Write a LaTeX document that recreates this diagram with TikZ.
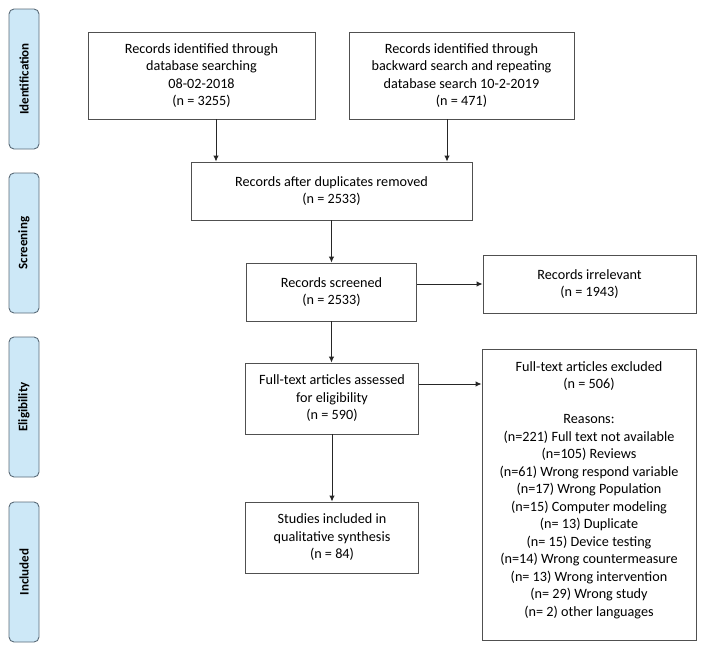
\documentclass[tikz,border=0pt]{standalone}
\usepackage{fontspec}
\setmainfont{Carlito}
\usetikzlibrary{arrows.meta,calc}
\definecolor{stagefill}{HTML}{CDE8F7}
\definecolor{stagedraw}{HTML}{5A6B78}
\definecolor{boxdraw}{HTML}{505050}
\begin{document}
\begin{tikzpicture}[x=1pt,y=-1pt,
  box/.style={draw=boxdraw, line width=0.9pt, fill=white, align=center, inner sep=0pt,
    font=\fontsize{14.2}{17.5}\selectfont},
  stage/.style={draw=stagedraw, line width=0.9pt, fill=stagefill, rounded corners=5pt,
    minimum width=30pt, minimum height=140pt, inner sep=0pt},
  stagetext/.style={rotate=90, font=\fontsize{13}{15}\selectfont\bfseries},
  arr/.style={draw=black!85, line width=0.9pt, -{Latex[length=6pt,width=5.5pt]}}]
\useasboundingbox (0,0) rectangle (705,651);

% stage labels
\node[stage] (sId) at (24,79) {};
\node[stagetext] (tId) at (sId.center) {Identification};
\node[stage] (sSc) at (24,243) {};
\node[stagetext] (tSc) at (sSc.center) {Screening};
\node[stage] (sEl) at (24,407) {};
\node[stagetext] (tEl) at (sEl.center) {Eligibility};
\node[stage] (sIn) at (24,572) {};
\node[stagetext] (tIn) at (sIn.center) {Included};

% boxes
\node[box, minimum width=227pt, minimum height=87pt] (b1) at (201.5,75.5)
  {Records identified through\\database searching\\08-02-2018\\(n = 3255)};
\node[box, minimum width=225pt, minimum height=87pt] (b2) at (461.5,75.5)
  {Records identified through\\backward search and repeating\\database search 10-2-2019\\(n = 471)};
\node[box, minimum width=281pt, minimum height=58pt] (b3) at (331.5,191)
  {Records after duplicates removed\\(n = 2533)};
\node[box, minimum width=170pt, minimum height=58pt] (b4) at (331.5,292)
  {Records screened\\(n = 2533)};
\node[box, minimum width=213pt, minimum height=58pt] (b5) at (589.5,284)
  {Records irrelevant\\(n = 1943)};
\node[box, minimum width=173pt, minimum height=71pt] (b6) at (332,398.5)
  {Full-text articles assessed\\for eligibility\\(n = 590)};
\node[box, minimum width=214pt, minimum height=291pt] (b7) at (589,494.5) {};
\node[align=center, inner sep=0pt, font=\fontsize{14.2}{17.5}\selectfont] (b7t) at (589,490)
  {Full-text articles excluded\\(n = 506)\\[17.5pt]Reasons:\\(n=221) Full text not available\\(n=105) Reviews\\(n=61) Wrong respond variable\\(n=17) Wrong Population\\(n=15) Computer modeling\\(n= 13) Duplicate\\(n= 15) Device testing\\(n=14) Wrong countermeasure\\(n= 13) Wrong intervention\\(n= 29) Wrong study\\(n= 2) other languages};
\node[box, minimum width=173pt, minimum height=71pt] (b8) at (332,537.5)
  {Studies included in\\qualitative synthesis\\(n = 84)};

% connectors
\coordinate (x1) at (216,0);
\coordinate (x2) at (447,0);
\coordinate (y1) at (0,284);
\coordinate (y2) at (0,384);
\draw[arr] (b1.south -| x1) -- (b3.north -| x1);
\draw[arr] (b2.south -| x2) -- (b3.north -| x2);
\draw[arr] (b3.south -| b4.north) -- (b4.north);
\draw[arr] (b4.south) -- (b6.north -| b4.south);
\draw[arr] (b4.east |- y1) -- (b5.west |- y1);
\draw[arr] (b6.south) -- (b8.north);
\draw[arr] (b6.east |- y2) -- (b7.west |- y2);
\end{tikzpicture}
\end{document}
